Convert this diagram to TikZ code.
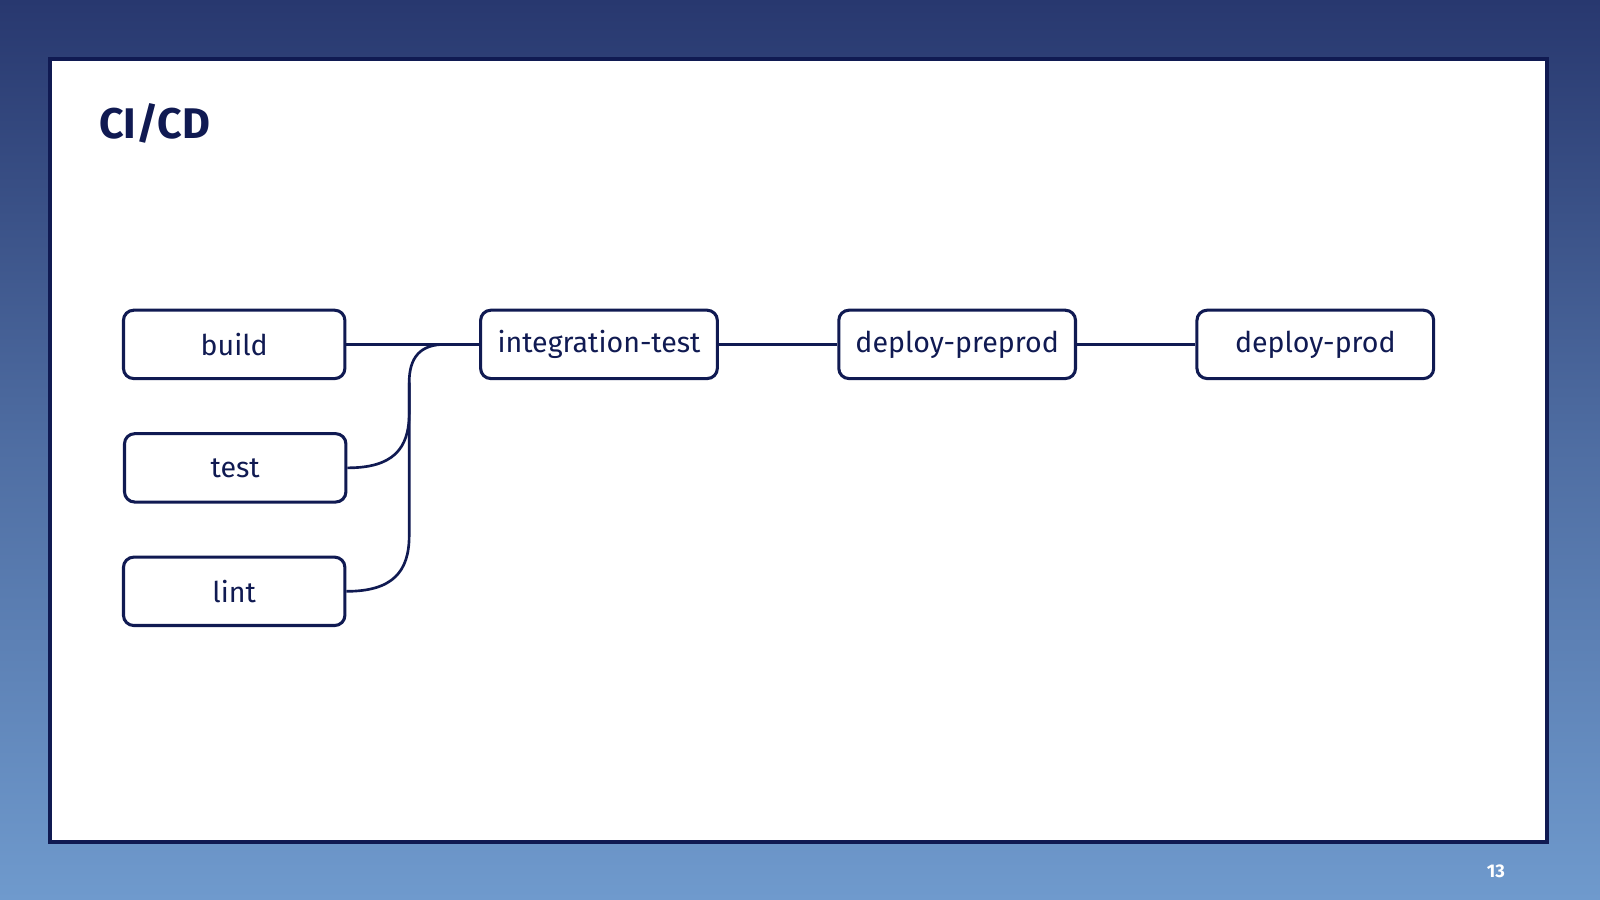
\documentclass[tikz,border=0pt]{standalone}
\usepackage{fontspec}
\setmainfont{Fira Sans}
\begin{document}
\begin{tikzpicture}[x=0.5pt,y=-0.5pt,
  box/.style={draw=navy,line width=1.5pt,rounded corners=5pt,fill=white,minimum width=108.5pt,minimum height=33.5pt,font=\fontsize{14}{16}\selectfont\color{navy}},
  wide/.style={box,minimum width=116pt},
  con/.style={draw=navy,line width=1.3pt}]
\definecolor{navy}{HTML}{101A52}
\definecolor{topc}{HTML}{28386F}
\definecolor{botc}{HTML}{6F9ACD}
\shade[top color=topc,bottom color=botc,middle color=botc!55!topc] (0,0) rectangle (1568,882);
\useasboundingbox (0,0) rectangle (1568,882);
\draw[navy,line width=2pt,fill=white] (49,58) rectangle (1516,825);
\node[anchor=west,font=\fontsize{21}{24}\selectfont\bfseries,text=navy] (title) at (90,121) {CI/CD};
\node[box] (build) at (229.5,337.5) {build};
\node[box] (test) at (230.5,458.5) {test};
\node[box] (lint) at (229.5,579.5) {lint};
\node[wide] (it) at (587,337.5) {integration-test};
\node[wide] (pre) at (938,337.5) {deploy-preprod};
\node[wide] (prod) at (1289,337.5) {deploy-prod};
\node[font=\fontsize{9}{10}\selectfont\bfseries,text=white] (pg) at (1466,854) {13};
\coordinate (m) at (436,337.5);
\draw[con] (build.east) -- (it.west);
\draw[con] (it.east) -- (pre.west);
\draw[con] (pre.east) -- (prod.west);
\draw[con] (test.east) .. controls (385,458.5) and (401,440) .. (401,405) -- (401,375) .. controls (401,350) and (412,337.5) .. (m);
\draw[con] (lint.east) .. controls (385,579.5) and (401,560) .. (401,525) -- (401,375);
\end{tikzpicture}
\end{document}
